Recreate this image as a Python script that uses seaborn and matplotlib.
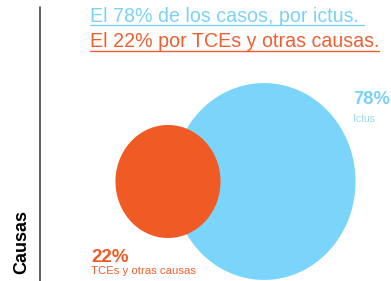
import numpy as np
import pandas as pd
import matplotlib
matplotlib.use("Agg")
import matplotlib.pyplot as plt
from matplotlib.path import Path
import seaborn as sns

# ---- data ----
categories = ["TCEs y otras causas", "Ictus"]
values = [22, 78]
pct_labels = ["22%", "78%"]
title_lines = ["El 78% de los casos, por ictus. ", "El 22% por TCEs y otras causas."]
axis_label = "Causas"

# ---- style ----
BLUE = "#7BD5FA"
BLUE_TXT = "#7CD2F5"
ORANGE = "#F05A24"
ORANGE_TXT = "#EE5F30"

sns.set_theme(style="white")
plt.rcParams['font.family'] = ['Liberation Sans', 'DejaVu Sans']

W, H = 391, 281
fig = plt.figure(figsize=(W / 100, H / 100), dpi=100)
ax = fig.add_axes([0, 0, 1, 1])

# slightly elliptical marker (the reference is a bit stretched vertically)
t = np.linspace(0, 2 * np.pi, 121)
ell = Path(np.column_stack([0.93 * np.cos(t), np.sin(t)]), closed=True)

df = pd.DataFrame({"cat": categories, "value": values,
                   "cx": [168, 264], "cy": [181.5, 181.5]})
order = df.sort_values("value", ascending=False)
sns.scatterplot(data=order, x="cx", y="cy", size="value", sizes=(6620, 20100),
                hue="cat", palette={categories[0]: ORANGE, categories[1]: BLUE},
                marker=ell, linewidth=0, legend=False, ax=ax, alpha=1)
ax.set_xlim(0, W)
ax.set_ylim(H, 0)
ax.axis("off")

# vertical axis line and label
ax.plot([39.5, 39.5], [7, H], color="#333333", lw=1.1)
ax.text(22, 242, axis_label, rotation=90, ha="center", va="center",
        fontsize=13, fontweight="bold", color="black")

# titles with underline
t1 = ax.text(90, 21.7, title_lines[0], color=BLUE_TXT, fontsize=14.1, va="baseline")
t2 = ax.text(90, 46.7, title_lines[1], color=ORANGE_TXT, fontsize=14.1, va="baseline")
fig.canvas.draw()
r = fig.canvas.get_renderer()
inv = ax.transData.inverted()
for tx, yl, c in [(t1, 24.5, BLUE_TXT), (t2, 50.5, ORANGE_TXT)]:
    bb = tx.get_window_extent(r)
    x0 = inv.transform((bb.x0, 0))[0]
    x1 = inv.transform((bb.x1, 0))[0]
    ax.plot([x0, x1], [yl, yl], color=c, lw=1.0)

# value labels
ax.text(353, 104.3, pct_labels[1], color=BLUE_TXT, fontsize=13.2, fontweight="bold", va="baseline")
ax.text(353, 122.5, categories[1], color="#9AD9F2", fontsize=7.5, va="baseline")
ax.text(91, 261.7, pct_labels[0], color=ORANGE, fontsize=13.5, fontweight="bold", va="baseline")
ax.text(91, 274.5, categories[0], color=ORANGE_TXT, fontsize=8.2, va="baseline")

fig.savefig("out.png", dpi=100)
